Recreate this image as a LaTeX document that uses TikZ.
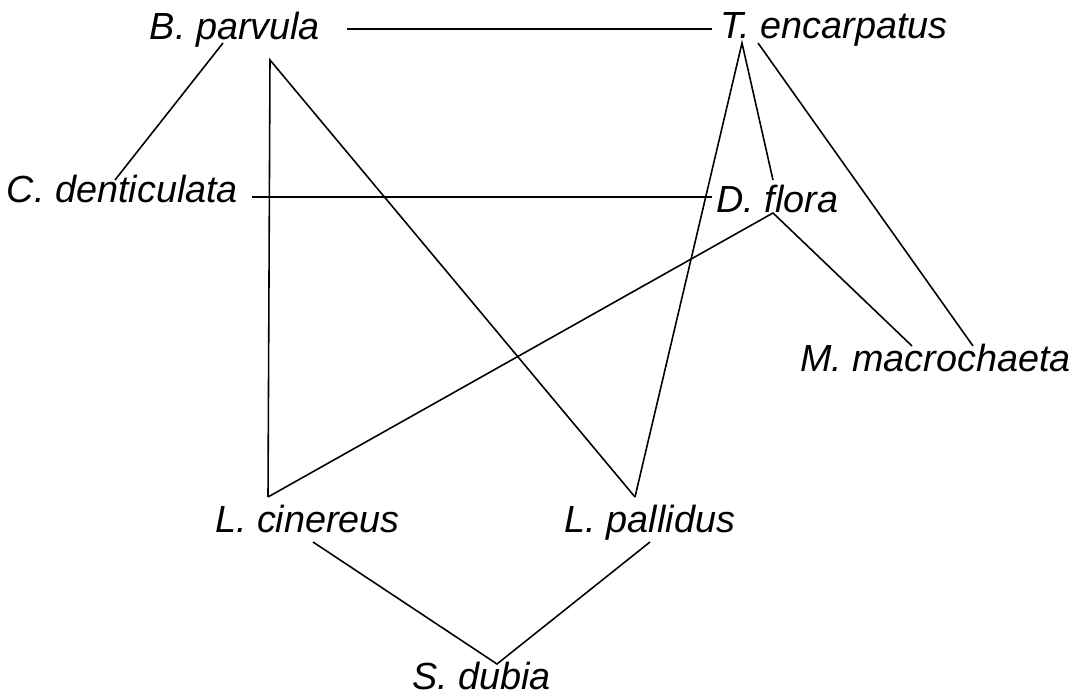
\documentclass[tikz,border=0pt]{standalone}
\usepackage{fontspec}
\setmainfont{Liberation Sans}
\usepackage{tikz}
\usetikzlibrary{positioning, calc}

\begin{document}
\begin{tikzpicture}[
  taxon/.style={font=\fontsize{21.5}{26}\selectfont\itshape, anchor=base, inner sep=0pt},
  link/.style={line width=0.9pt, black}
]
  \useasboundingbox (0,0) rectangle (21.5,14);

  % Species labels
  \node[taxon] (bp) at (4.70,13.20) {B. parvula};
  \node[taxon] (te) at (16.68,13.22) {T. encarpatus};
  \node[taxon] (cd) at (2.45,9.94) {C. denticulata};
  \node[taxon] (df) at (15.55,9.74) {D. flora};
  \node[taxon] (mm) at (18.71,6.56) {M. macrochaeta};
  \node[taxon] (lc) at (6.15,3.34) {L. cinereus};
  \node[taxon] (lp) at (13.00,3.34) {L. pallidus};
  \node[taxon] (sd) at (9.63,0.20) {S. dubia};

  % Line ends near the labels
  \coordinate (bp-e) at (6.94,13.42);
  \coordinate (bp-s) at (4.46,13.14);
  \coordinate (bp-v) at (5.40,12.80);
  \coordinate (te-w) at (14.24,13.42);
  \coordinate (te-s) at (14.84,13.14);
  \coordinate (te-se) at (15.16,13.14);
  \coordinate (cd-n) at (2.30,10.40);
  \coordinate (cd-e) at (5.04,10.06);
  \coordinate (df-w) at (14.24,10.06);
  \coordinate (df-n) at (15.46,10.40);
  \coordinate (df-s) at (15.46,9.74);
  \coordinate (mm-n1) at (18.24,7.08);
  \coordinate (mm-n2) at (19.46,7.08);
  \coordinate (lc-n) at (5.36,4.06);
  \coordinate (lc-s) at (6.26,3.16);
  \coordinate (lp-n) at (12.70,4.06);
  \coordinate (lp-s) at (13.00,3.16);
  \coordinate (sd-n) at (9.94,0.72);

  % Top row
  \draw[link] (bp-e) -- (te-w);
  \draw[link] (bp-s) -- (cd-n);
  \draw[link] (lc-n) -- (bp-v) -- (lp-n);

  % Middle row
  \draw[link] (cd-e) -- (df-w);
  \draw[link] (lp-n) -- (te-s) -- (df-n);
  \draw[link] (te-se) -- (mm-n2);
  \draw[link] (lc-n) -- (df-s) -- (mm-n1);

  % Bottom
  \draw[link] (lc-s) -- (sd-n) -- (lp-s);
\end{tikzpicture}
\end{document}
